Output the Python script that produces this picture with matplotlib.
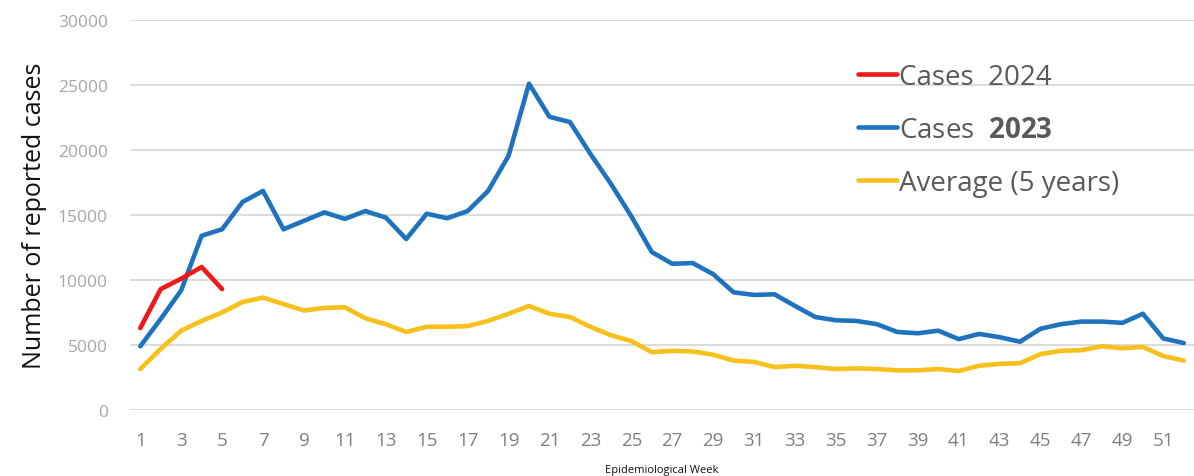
import matplotlib.pyplot as plt

plt.rcParams['font.family'] = ['Open Sans', 'DejaVu Sans']
plt.rcParams['mathtext.fontset'] = 'custom'
plt.rcParams['mathtext.bf'] = 'Open Sans:bold'

# weekly reported cases
weeks = list(range(1, 53))
cases_2024 = [6300, 9300, 10100, 11000, 9300]
cases_2023 = [4900, 7000, 9200, 13400, 13900, 16000, 16850, 13900, 14550, 15200,
              14700, 15300, 14800, 13150, 15100, 14750, 15300, 16850, 19550, 25100,
              22550, 22150, 19700, 17400, 14900, 12150, 11250, 11300, 10450, 9050,
              8850, 8900, 8000, 7150, 6900, 6850, 6600, 6000, 5900, 6100,
              5450, 5850, 5600, 5250, 6250, 6600, 6800, 6800, 6700, 7400,
              5500, 5150]
average_5y = [3150, 4700, 6100, 6850, 7500, 8300, 8650, 8150, 7650, 7850,
              7900, 7050, 6600, 6000, 6400, 6400, 6450, 6850, 7400, 8000,
              7400, 7150, 6400, 5750, 5300, 4450, 4550, 4500, 4250, 3800,
              3700, 3300, 3400, 3300, 3150, 3200, 3150, 3050, 3050, 3150,
              3000, 3400, 3550, 3600, 4300, 4550, 4600, 4900, 4750, 4850,
              4150, 3800]
xtick_weeks = list(range(1, 52, 2))
yticks = [0, 5000, 10000, 15000, 20000, 25000, 30000]

fig = plt.figure(figsize=(11.94, 4.77), dpi=100)
ax = fig.add_axes([0.1089, 0.1384, 0.8911, 0.8176])

lw = 3.3
l24, = ax.plot(weeks[:len(cases_2024)], cases_2024, color='#f01818', lw=lw,
               solid_joinstyle='round', solid_capstyle='round', zorder=4)
l23, = ax.plot(weeks, cases_2023, color='#1f72bd', lw=lw,
               solid_joinstyle='round', solid_capstyle='round', zorder=3)
lav, = ax.plot(weeks, average_5y, color='#f7c01a', lw=lw,
               solid_joinstyle='round', solid_capstyle='round', zorder=2)

ax.set_xlim(0.5, 52.5)
ax.set_ylim(0, 30000)
ax.set_yticks(yticks)
ax.set_xticks(xtick_weeks)
ax.grid(axis='y', color='#d9d9d9', lw=1.3)
ax.set_axisbelow(True)
for s in ax.spines.values():
    s.set_visible(False)
ax.tick_params(axis='y', length=0, labelsize=12.5, labelcolor='#a6a6a6', pad=16)
ax.tick_params(axis='x', length=0, labelsize=13.5, labelcolor='#7f7f7f', pad=15)

ax.set_ylabel('Number of reported cases', fontsize=18, color='#111111', labelpad=8)
ax.set_xlabel('Epidemiological Week', fontsize=8, color='#111111', labelpad=11)

leg = ax.legend([l24, l23, lav],
                ['Cases  2024', r'Cases  $\mathbf{2023}$', 'Average (5 years)'],
                loc='upper left', bbox_to_anchor=(0.684, 0.89), frameon=False,
                fontsize=20, handlelength=1.4, handletextpad=0.1,
                labelspacing=0.9, borderaxespad=0, borderpad=0)
for t in leg.get_texts():
    t.set_color('#595959')

fig.savefig('out.png', dpi=100)
